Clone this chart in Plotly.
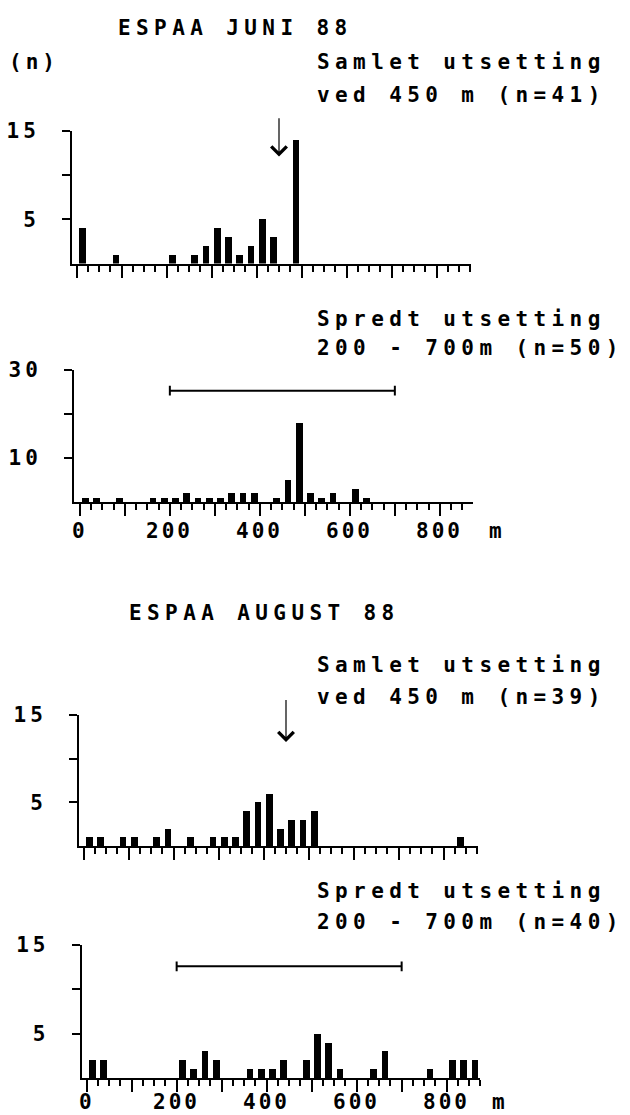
import plotly.graph_objects as go

# ---------------- data (25 m distance classes, bin centres in metres) ----------------
jun_samlet_x = [12.5, 87.5, 212.5, 262.5, 287.5, 312.5, 337.5, 362.5, 387.5, 412.5, 437.5, 487.5]
jun_samlet_n = [4, 1, 1, 1, 2, 4, 3, 1, 2, 5, 3, 14]

jun_spredt_x = [12.5, 37.5, 87.5, 162.5, 187.5, 212.5, 237.5, 262.5, 287.5, 312.5, 337.5,
                362.5, 387.5, 437.5, 462.5, 487.5, 512.5, 537.5, 562.5, 612.5, 637.5]
jun_spredt_n = [1, 1, 1, 1, 1, 1, 2, 1, 1, 1, 2, 2, 2, 1, 5, 18, 2, 1, 2, 3, 1]

aug_samlet_x = [12.5, 37.5, 87.5, 112.5, 162.5, 187.5, 237.5, 287.5, 312.5, 337.5, 362.5,
                387.5, 412.5, 437.5, 462.5, 487.5, 512.5, 837.5]
aug_samlet_n = [1, 1, 1, 1, 1, 2, 1, 1, 1, 1, 4, 5, 6, 2, 3, 3, 4, 1]

aug_spredt_x = [12.5, 37.5, 212.5, 237.5, 262.5, 287.5, 362.5, 387.5, 412.5, 437.5, 487.5,
                512.5, 537.5, 562.5, 637.5, 662.5, 762.5, 812.5, 837.5, 862.5]
aug_spredt_n = [2, 2, 2, 1, 3, 2, 1, 1, 1, 2, 2, 5, 4, 1, 1, 3, 1, 2, 2, 2]

release_point = 450            # samlet utsetting (m)
release_range = [200, 700]     # spredt utsetting (m)

x_tick_vals = [0, 100, 200, 300, 400, 500, 600, 700, 800]
x_tick_text = ["0", "", "200", "", "400", "", "600", "", "800"]
y15_vals = [5, 10, 15]
y15_text = ["5", "", "15"]
y30_vals = [10, 20, 30]
y30_text = ["10", "", "30"]

titles = ["ESPAA JUNI 88", "ESPAA AUGUST 88"]
texts_samlet = [["Samlet utsetting", "ved 450 m (n=41)"], ["Samlet utsetting", "ved 450 m (n=39)"]]
texts_spredt = [["Spredt utsetting", "200 - 700m (n=50)"], ["Spredt utsetting", "200 - 700m (n=40)"]]
y_unit = "(n)"
x_unit = "m"

# ---------------- layout helpers ----------------
W, H = 630, 1115
FONT = "DejaVu Sans Mono"
FS = 21      # text size
LS = 5.4     # letter spacing


def sp(t, ls):
    return f'<span style="letter-spacing:{ls}px">{t}</span>' if ls else t


def xd(px0, px1):
    return [px0 / W, px1 / W]


def yd(top, bottom):
    return [1 - bottom / H, 1 - top / H]


panels = [
    dict(xpx=(72, 470.7), ypx=(131, 263.5), xr=[-10, 876], yr=[0, 15],
         x=jun_samlet_x, n=jun_samlet_n, yv=y15_vals, yt=y15_text, lab_y=None),
    dict(xpx=(74, 472.7), ypx=(370, 502), xr=[-13, 873], yr=[0, 30],
         x=jun_spredt_x, n=jun_spredt_n, yv=y30_vals, yt=y30_text, lab_y=531),
    dict(xpx=(79, 477.7), ypx=(715, 846), xr=[-10, 876], yr=[0, 15],
         x=aug_samlet_x, n=aug_samlet_n, yv=y15_vals, yt=y15_text, lab_y=None),
    dict(xpx=(81.7, 480.4), ypx=(945, 1078), xr=[-11, 875], yr=[0, 15],
         x=aug_spredt_x, n=aug_spredt_n, yv=y15_vals, yt=y15_text, lab_y=1102),
]

fig = go.Figure()
minor_vals = [v for v in range(0, 876, 25) if v % 100 != 0]

for i, p in enumerate(panels, start=1):
    xa = "x" if i == 1 else f"x{i}"
    ya = "y" if i == 1 else f"y{i}"
    fig.add_trace(go.Bar(x=p["x"], y=p["n"], width=15, marker=dict(color="black", line=dict(width=0)),
                         xaxis=xa, yaxis=ya, showlegend=False, hoverinfo="x+y"))
    xkey = "xaxis" if i == 1 else f"xaxis{i}"
    ykey = "yaxis" if i == 1 else f"yaxis{i}"
    fig.update_layout({
        xkey: dict(domain=xd(*p["xpx"]), range=p["xr"], anchor=ya, showgrid=False, zeroline=False,
                   showline=True, linecolor="black", linewidth=2, automargin=False,
                   tickmode="array", tickvals=x_tick_vals, ticktext=x_tick_text,
                   ticks="outside", ticklen=12, tickwidth=1.5, tickcolor="black",
                   showticklabels=False,
                   minor=dict(tickmode="array", tickvals=minor_vals, ticks="outside", ticklen=6,
                              tickwidth=1.5, tickcolor="black", showgrid=False),
                   fixedrange=True),
        ykey: dict(domain=yd(*p["ypx"]), range=p["yr"], anchor=xa, showgrid=False, zeroline=False,
                   showline=True, linecolor="black", linewidth=2, automargin=False,
                   tickmode="array", tickvals=p["yv"], ticktext=[sp(t, 4) for t in p["yt"]],
                   ticks="outside", ticklen=8, tickwidth=2, tickcolor="black",
                   ticklabelstandoff=18,
                   tickfont=dict(family=FONT, size=FS, color="black", weight="bold"),
                   fixedrange=True),
    })
    # x tick labels (drawn at the axis tick values)
    if p["lab_y"] is not None:
        for v, t in zip(x_tick_vals, x_tick_text):
            if t:
                fig.add_annotation(text=sp(t, 3), x=v, xref=xa, y=1 - p["lab_y"] / H, yref="paper",
                                   xanchor="center", yanchor="middle", showarrow=False, borderpad=0,
                                   font=dict(family=FONT, size=FS, color="black", weight="bold"))

# release range bars (panels 2 and 4)
for i, yv in [(2, 25.3), (4, 12.6)]:
    fig.add_trace(go.Scatter(x=release_range, y=[yv, yv], mode="lines+markers",
                             line=dict(color="black", width=2),
                             marker=dict(symbol="line-ns-open", size=7, line=dict(width=2, color="black")),
                             xaxis=f"x{i}", yaxis=f"y{i}", showlegend=False, hoverinfo="skip"))

# release point arrows (panels 1 and 3)
for i, (tip, top) in [(1, (12.1, 16.6)), (3, (11.9, 16.9))]:
    xa = "x" if i == 1 else f"x{i}"
    ya = "y" if i == 1 else f"y{i}"
    fig.add_annotation(x=release_point, y=tip, ax=release_point, ay=top, xref=xa, yref=ya,
                       axref=xa, ayref=ya, showarrow=True, arrowhead=4, arrowsize=2.5,
                       arrowwidth=1.2, arrowcolor="black", text="")


def label(txt, xpx, ypx, ls=LS, size=FS):
    fig.add_annotation(text=sp(txt, ls), x=xpx / W, y=1 - ypx / H, xref="paper", yref="paper",
                       xanchor="left", yanchor="middle", showarrow=False, borderpad=0,
                       font=dict(family=FONT, size=size, color="black", weight="bold"))


label(titles[0], 117, 28)
label(y_unit, 8, 62, ls=4)
label(texts_samlet[0][0], 316, 62)
label(texts_samlet[0][1], 316, 95)
label(texts_spredt[0][0], 316, 319)
label(texts_spredt[0][1], 316, 348)
label(x_unit, 488, 531, ls=0)

label(titles[1], 128, 613)
label(texts_samlet[1][0], 316, 665)
label(texts_samlet[1][1], 316, 697)
label(texts_spredt[1][0], 316, 891)
label(texts_spredt[1][1], 316, 922)
label(x_unit, 491, 1102, ls=0)

fig.update_layout(template="none", width=W, height=H, autosize=False,
                  margin=dict(l=0, r=0, t=0, b=0, pad=0),
                  paper_bgcolor="white", plot_bgcolor="white", bargap=0,
                  font=dict(family=FONT, color="black"))

fig.write_html("out.html")
